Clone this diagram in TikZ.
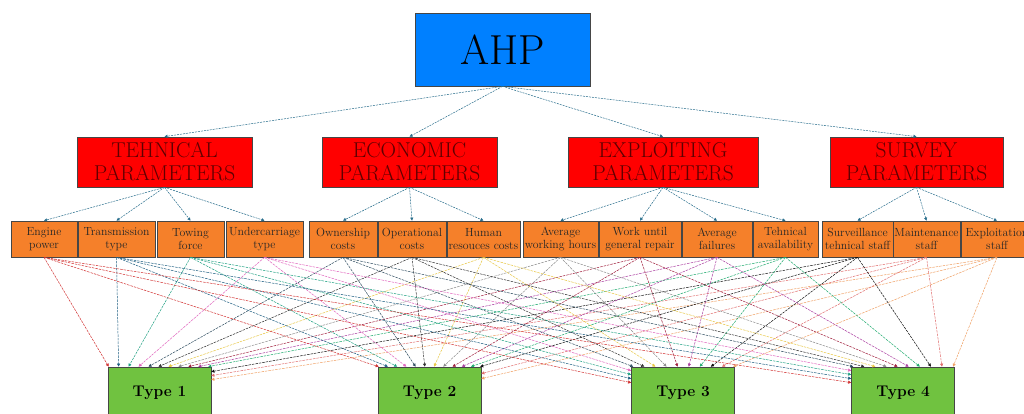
\documentclass[tikz,border=0pt]{standalone}
\usetikzlibrary{arrows.meta,calc}
\definecolor{ahpblue}{RGB}{0,128,255}
\definecolor{parred}{RGB}{255,0,0}
\definecolor{critorange}{RGB}{245,128,42}
\definecolor{typegreen}{RGB}{112,194,64}
\definecolor{partext}{RGB}{95,0,0}
\definecolor{treeline}{RGB}{40,110,140}
\definecolor{boxline}{RGB}{70,70,70}
\definecolor{c1}{RGB}{210,50,50}
\definecolor{c2}{RGB}{30,95,130}
\definecolor{c3}{RGB}{30,160,130}
\definecolor{c4}{RGB}{225,100,190}
\definecolor{c5}{RGB}{45,75,95}
\definecolor{c6}{RGB}{50,50,50}
\definecolor{c7}{RGB}{232,200,70}
\definecolor{c8}{RGB}{140,140,140}
\definecolor{c9}{RGB}{160,30,60}
\definecolor{c10}{RGB}{170,60,160}
\definecolor{c11}{RGB}{30,170,110}
\definecolor{c12}{RGB}{15,15,15}
\definecolor{c13}{RGB}{225,110,110}
\definecolor{c14}{RGB}{240,160,100}
\begin{document}
\begin{tikzpicture}[x=1pt,y=-1pt,
  box/.style={draw=boxline, line width=0.7pt, inner sep=0pt, align=center},
  ahpbox/.style={box, fill=ahpblue, minimum width=175pt, minimum height=73pt, font=\fontsize{42}{46}\selectfont},
  parbox/.style={box, fill=parred, minimum height=50pt, text=partext, font=\fontsize{21.5}{23}\selectfont},
  critbox/.style={box, fill=critorange, minimum height=36pt, text=black!85, font=\fontsize{11.8}{13}\selectfont},
  typebox/.style={box, fill=typegreen, minimum width=103pt, minimum height=52pt, font=\fontsize{15.5}{18}\selectfont\bfseries},
  treearrow/.style={draw=treeline, line width=0.5pt, dash pattern=on 2pt off 1pt, -{Triangle[length=3pt,width=3pt]}},
  linkarrow/.style={line width=0.5pt, dash pattern=on 2.5pt off 1pt, -{Triangle[length=3pt,width=3pt]}}
]
\useasboundingbox (0,0) rectangle (1024,414);
\clip (0,0) rectangle (1024,414);
\fill[white] (0,0) rectangle (1024,414);

\node[ahpbox] (ahp) at (502.5,49.5) {AHP};

\node[parbox, minimum width=175pt] (tech) at (164.5,162) {TEHNICAL\\PARAMETERS};
\node[parbox, minimum width=175pt] (econ) at (409.5,162) {ECONOMIC\\PARAMETERS};
\node[parbox, minimum width=190pt] (expl) at (663,162) {EXPLOITING\\PARAMETERS};
\node[parbox, minimum width=173pt] (surv) at (916.5,162) {SURVEY\\PARAMETERS};

\node[critbox, minimum width=66pt] (s1) at (44,239) {Engine\\power};
\node[critbox, minimum width=77pt] (s2) at (116.5,239) {Transmission\\type};
\node[critbox, minimum width=67pt] (s3) at (190.5,239) {Towing\\force};
\node[critbox, minimum width=77pt] (s4) at (264.5,239) {Undercarriage\\type};
\node[critbox, minimum width=68pt] (s5) at (343,239) {Ownership\\costs};
\node[critbox, minimum width=68pt] (s6) at (412,239) {Operational\\costs};
\node[critbox, minimum width=73pt] (s7) at (483.5,239) {Human\\resouces costs};
\node[critbox, minimum width=75pt] (s8) at (560.5,239) {Average\\working hours};
\node[critbox, minimum width=82pt] (s9) at (640,239) {Work until\\general repair};
\node[critbox, minimum width=70pt] (s10) at (717,239) {Average\\failures};
\node[critbox, minimum width=65pt] (s11) at (785.5,239) {Tehnical\\availability};
\node[critbox, minimum width=71pt] (s12) at (857.5,239) {Surveillance\\tehnical staff};
\node[critbox, minimum width=67pt] (s13) at (926.5,239) {Maintenance\\staff};
\node[critbox, minimum width=72pt] (s14) at (997,239) {Exploitation\\staff};

\node[typebox] (t1) at (159.5,393) {Type 1};
\node[typebox] (t2) at (429.5,393) {Type 2};
\node[typebox] (t3) at (683,393) {Type 3};
\node[typebox] (t4) at (903,393) {Type 4};

% hierarchy arrows
\foreach \p in {tech,econ,expl,surv}
  \draw[treearrow] (ahp.south) -- (\p.north);
\foreach \c in {s1,s2,s3,s4} \draw[treearrow] (tech.south) -- (\c.north);
\foreach \c in {s5,s6,s7} \draw[treearrow] (econ.south) -- (\c.north);
\foreach \c in {s8,s9,s10,s11} \draw[treearrow] (expl.south) -- (\c.north);
\foreach \c in {s12,s13,s14} \draw[treearrow] (surv.south) -- (\c.north);

% criteria to alternatives
% Type 1
\foreach \i in {1,...,11}
  \draw[linkarrow, draw=c\i] (s\i.south) -- ($(t1.north west)!{0.01+(\i-1)*0.096}!(t1.north east)$);
\foreach \i/\o in {12/5,13/9,14/13}
  \draw[linkarrow, draw=c\i] (s\i.south) -- ($(t1.north east)+(0,\o)$);
% Type 2
\foreach \i in {1,...,12}
  \draw[linkarrow, draw=c\i] (s\i.south) -- ($(t2.north west)!{0.01+(\i-1)*0.089}!(t2.north east)$);
\foreach \i/\o in {13/7,14/12}
  \draw[linkarrow, draw=c\i] (s\i.south) -- ($(t2.north east)+(0,\o)$);
% Type 3
\foreach \i/\o in {1/16,2/12,3/8,4/4}
  \draw[linkarrow, draw=c\i] (s\i.south) -- ($(t3.north west)+(0,\o)$);
\foreach \i in {5,...,14}
  \draw[linkarrow, draw=c\i] (s\i.south) -- ($(t3.north west)!{0.02+(\i-5)*0.107}!(t3.north east)$);
% Type 4
\foreach \i/\o in {1/16,2/12,3/8,4/4}
  \draw[linkarrow, draw=c\i] (s\i.south) -- ($(t4.north west)+(0,\o)$);
\foreach \i in {5,...,14}
  \draw[linkarrow, draw=c\i] (s\i.south) -- ($(t4.north west)!{0.02+(\i-5)*0.107}!(t4.north east)$);
\end{tikzpicture}
\end{document}
